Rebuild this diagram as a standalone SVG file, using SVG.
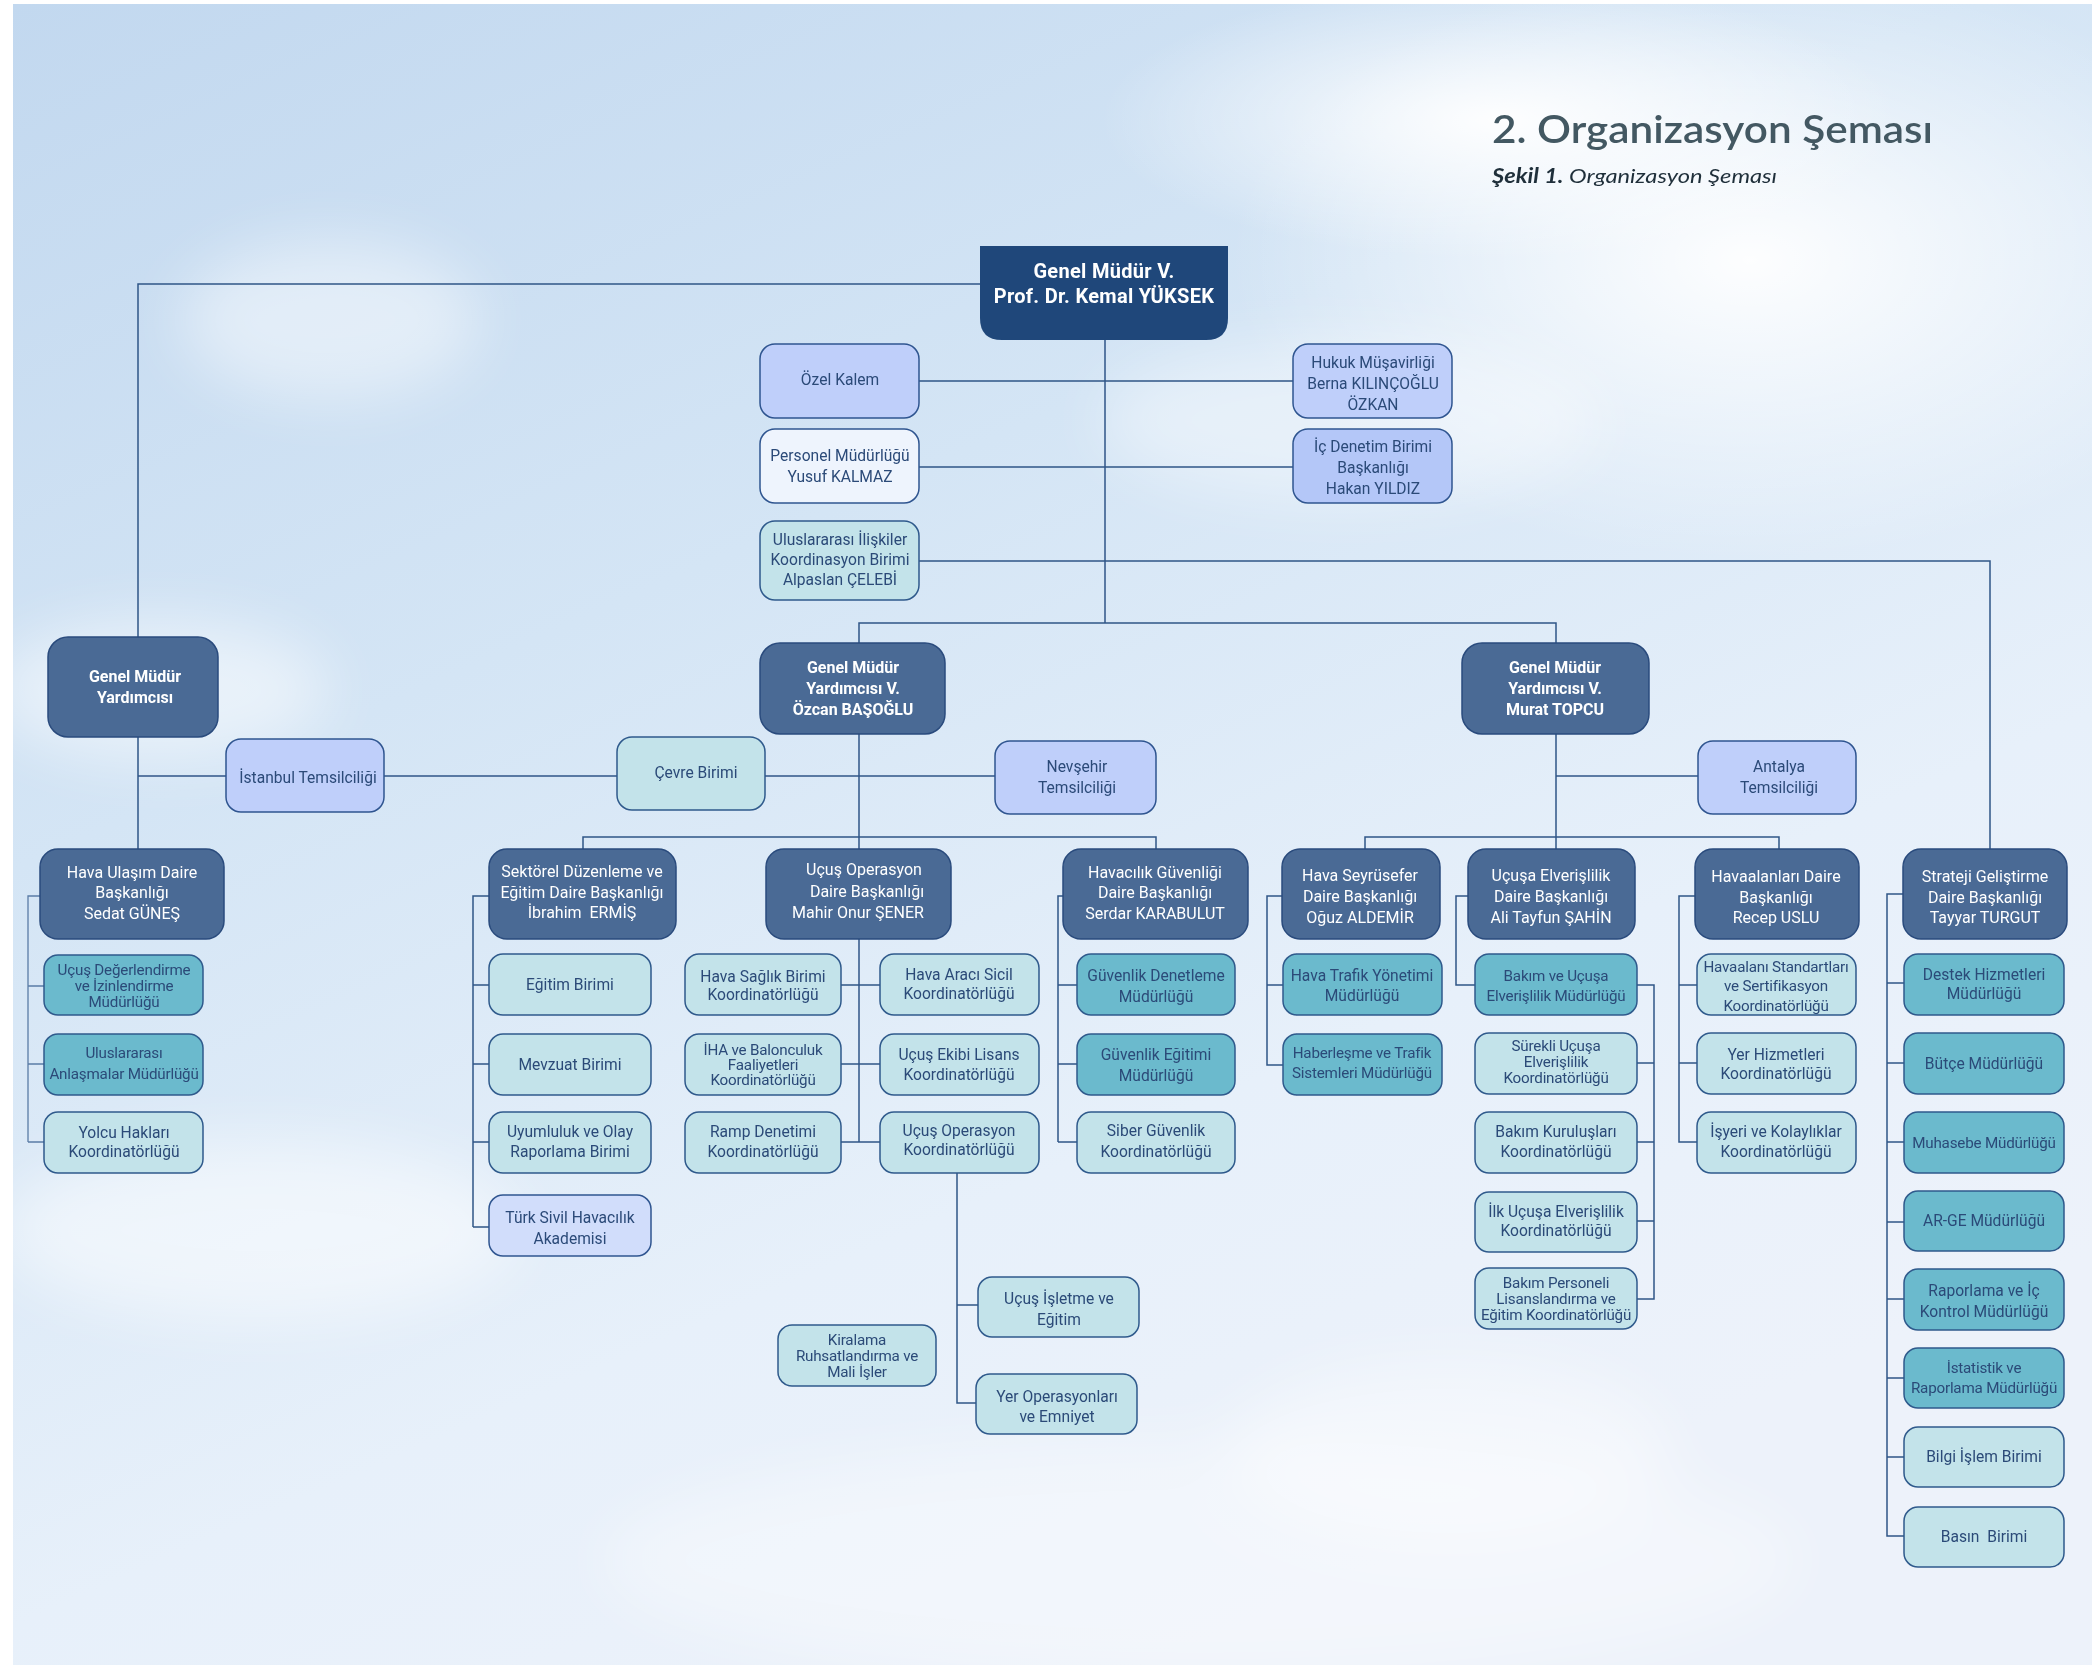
<svg xmlns="http://www.w3.org/2000/svg" width="2098" height="1665" viewBox="0 0 2098 1665">
<defs>
<linearGradient id="sky" x1="0" y1="0" x2="0.55" y2="1">
<stop offset="0" stop-color="#c2d8ef"/>
<stop offset="0.4" stop-color="#d4e5f5"/>
<stop offset="0.75" stop-color="#e7f0fa"/>
<stop offset="1" stop-color="#edf2fa"/>
</linearGradient>
<radialGradient id="glow" cx="0.5" cy="0.5" r="0.5">
<stop offset="0" stop-color="#ffffff" stop-opacity="0.95"/>
<stop offset="1" stop-color="#ffffff" stop-opacity="0"/>
</radialGradient>
<filter id="blur" x="-50%" y="-50%" width="200%" height="200%"><feGaussianBlur stdDeviation="30"/></filter>
<style>
.c{fill:none;stroke:#2f5587;stroke-width:1.5}
.c2{fill:none;stroke:#5a7ca6;stroke-width:1.3}
rect{stroke-width:1.5}
.dk{fill:#4a6a95;stroke:#2a4b7d}
.lv{fill:#bfcffa;stroke:#2f5590}
.lv2{fill:#b4c7f8;stroke:#2f5590}
.lv3{fill:#d1ddfb;stroke:#2f5590}
.wh{fill:#eef4fd;stroke:#2f5590}
.lt{fill:#c3e3ea;stroke:#2f5a8c}
.md{fill:#6bbacd;stroke:#2f5a8c}
text{font-family:Roboto,'Liberation Sans',sans-serif;text-anchor:middle}
.t{font-size:15.6px;fill:#2b4a78}
.ts{font-size:15.2px;fill:#2b4a78;letter-spacing:-0.2px}
.tw{font-size:16px;fill:#ffffff}
.tb{font-size:16px;fill:#ffffff;font-weight:bold}
.title{font-family:Lato,'Open Sans',sans-serif;text-anchor:start;font-size:38px;fill:#435862;font-weight:600}
.sub{font-family:Lato,'Open Sans',sans-serif;text-anchor:start;font-size:20px;fill:#1f2f3a;font-style:italic}
</style>
</defs>
<rect x="0" y="0" width="2098" height="1665" fill="#ffffff"/>
<g id="background">
<rect x="13" y="4" width="2079" height="1661" fill="url(#sky)"/>
<ellipse cx="1750" cy="260" rx="520" ry="300" fill="url(#glow)"/>
<ellipse cx="1500" cy="120" rx="400" ry="140" fill="url(#glow)"/>
<g filter="url(#blur)" fill="#ffffff">
<ellipse cx="330" cy="320" rx="150" ry="80" opacity="0.45"/>
<ellipse cx="160" cy="690" rx="170" ry="70" opacity="0.5"/>
<ellipse cx="260" cy="1230" rx="260" ry="90" opacity="0.5"/>
<ellipse cx="1200" cy="1560" rx="600" ry="120" opacity="0.35"/>
<ellipse cx="1350" cy="420" rx="250" ry="80" opacity="0.4"/>
<ellipse cx="1450" cy="1450" rx="220" ry="90" opacity="0.4"/>
</g>
</g>
<g id="title">
<text class="title" x="1492" y="143" textLength="441" lengthAdjust="spacingAndGlyphs">2. Organizasyon Şeması</text>
<text class="sub" x="1492" y="183" textLength="285" lengthAdjust="spacingAndGlyphs"><tspan font-weight="bold">Şekil 1.</tspan> Organizasyon Şeması</text>
</g>
<g id="connectors">
<path class="c" d="M980,284 H138 V849"/>
<path class="c" d="M1105,340 V623"/>
<path class="c" d="M919,381 H1293 M919,467 H1293"/>
<path class="c" d="M919,561 H1990 V849"/>
<path class="c" d="M859,643 V623 H1556 V849"/>
<path class="c" d="M138,776 H995"/>
<path class="c" d="M1556,776 H1698"/>
<path class="c" d="M859,734 V1142"/>
<path class="c" d="M583,849 V837 H1156 V849"/>
<path class="c" d="M1365,849 V837 H1779 V849"/>
<path class="c2" d="M40,896 H28 V1142 M28,986 H44 M28,1064 H44 M28,1142 H44"/>
<path class="c" d="M489,896 H473 V1227 M473,985 H489 M473,1064 H489 M473,1142 H489 M473,1227 H489"/>
<path class="c" d="M841,985 H880 M841,1064 H880 M841,1142 H880"/>
<path class="c" d="M957,1173 V1403 H976 M957,1305 H978"/>
<path class="c" d="M1063,896 H1058 V1142 M1058,985 H1077 M1058,1064 H1077 M1058,1142 H1077"/>
<path class="c" d="M1282,896 H1267 V1065 H1283 M1267,985 H1283"/>
<path class="c" d="M1468,896 H1456 V985 H1475"/>
<path class="c" d="M1637,985 H1654 V1299 H1637 M1637,1063 H1654 M1637,1142 H1654 M1637,1221 H1654"/>
<path class="c" d="M1695,896 H1679 V1142 H1697 M1679,985 H1697 M1679,1063 H1697"/>
<path class="c" d="M1903,894 H1887 V1536 H1904 M1887,983 H1904 M1887,1063 H1904 M1887,1142 H1904 M1887,1222 H1904 M1887,1299 H1904 M1887,1378 H1904 M1887,1457 H1904"/>
</g>
<g id="n-genelmudur">
<path d="M980,246 H1228 V318 Q1228,340 1206,340 H1002 Q980,340 980,318 Z" fill="#1f477a"/>
<text class="tb" style="font-size:20px;letter-spacing:0.3px"><tspan x="1104" y="278">Genel Müdür V.</tspan><tspan x="1104" y="303">Prof. Dr. Kemal YÜKSEK</tspan></text>
</g>
<g id="n-ozelkalem"><rect class="lv" x="760" y="344" width="159" height="74" rx="15"/><text class="t" x="840" y="385">Özel Kalem</text></g>
<g id="n-hukuk"><rect class="lv" x="1293" y="344" width="159" height="74" rx="15"/><text class="t"><tspan x="1373" y="368">Hukuk Müşavirliği</tspan><tspan x="1373" y="389">Berna KILINÇOĞLU</tspan><tspan x="1373" y="410">ÖZKAN</tspan></text></g>
<g id="n-personel"><rect class="wh" x="760" y="429" width="159" height="74" rx="15"/><text class="t"><tspan x="840" y="461">Personel Müdürlüğü</tspan><tspan x="840" y="482">Yusuf KALMAZ</tspan></text></g>
<g id="n-icdenetim"><rect class="lv2" x="1293" y="429" width="159" height="74" rx="15"/><text class="t"><tspan x="1373" y="452">İç Denetim Birimi</tspan><tspan x="1373" y="473">Başkanlığı</tspan><tspan x="1373" y="494">Hakan YILDIZ</tspan></text></g>
<g id="n-uluslararasi"><rect class="lt" x="760" y="521" width="159" height="79" rx="15"/><text class="t"><tspan x="840" y="545">Uluslararası İlişkiler</tspan><tspan x="840" y="565">Koordinasyon Birimi</tspan><tspan x="840" y="585">Alpaslan ÇELEBİ</tspan></text></g>
<g id="n-gmy1"><rect class="dk" x="48" y="637" width="170" height="100" rx="20"/><text class="tb"><tspan x="135" y="682">Genel Müdür</tspan><tspan x="135" y="703">Yardımcısı</tspan></text></g>
<g id="n-gmy2"><rect class="dk" x="760" y="643" width="185" height="91" rx="20"/><text class="tb"><tspan x="853" y="673">Genel Müdür</tspan><tspan x="853" y="694">Yardımcısı V.</tspan><tspan x="853" y="715">Özcan BAŞOĞLU</tspan></text></g>
<g id="n-gmy3"><rect class="dk" x="1462" y="643" width="187" height="91" rx="20"/><text class="tb"><tspan x="1555" y="673">Genel Müdür</tspan><tspan x="1555" y="694">Yardımcısı V.</tspan><tspan x="1555" y="715">Murat TOPCU</tspan></text></g>
<g id="n-istanbul"><rect class="lv" x="226" y="739" width="158" height="73" rx="15"/><text class="t" x="308" y="783">İstanbul Temsilciliği</text></g>
<g id="n-cevre"><rect class="lt" x="617" y="737" width="148" height="73" rx="15"/><text class="t" x="696" y="778">Çevre Birimi</text></g>
<g id="n-nevsehir"><rect class="lv" x="995" y="741" width="161" height="73" rx="15"/><text class="t"><tspan x="1077" y="772">Nevşehir</tspan><tspan x="1077" y="793">Temsilciliği</tspan></text></g>
<g id="n-antalya"><rect class="lv" x="1698" y="741" width="158" height="73" rx="15"/><text class="t"><tspan x="1779" y="772">Antalya</tspan><tspan x="1779" y="793">Temsilciliği</tspan></text></g>
<g id="n-havaulasim"><rect class="dk" x="40" y="849" width="184" height="90" rx="18"/><text class="tw"><tspan x="132" y="878">Hava Ulaşım Daire</tspan><tspan x="132" y="898">Başkanlığı</tspan><tspan x="132" y="919">Sedat GÜNEŞ</tspan></text></g>
<g id="n-sektorel"><rect class="dk" x="489" y="849" width="187" height="90" rx="18"/><text class="tw"><tspan x="582" y="877">Sektörel Düzenleme ve</tspan><tspan x="582" y="898">Eğitim Daire Başkanlığı</tspan><tspan x="582" y="918" xml:space="preserve">İbrahim  ERMİŞ</tspan></text></g>
<g id="n-ucusop"><rect class="dk" x="766" y="849" width="185" height="90" rx="18"/><text class="tw"><tspan x="864" y="875">Uçuş Operasyon</tspan><tspan x="867" y="897">Daire Başkanlığı</tspan><tspan x="858" y="918">Mahir Onur ŞENER</tspan></text></g>
<g id="n-havguv"><rect class="dk" x="1063" y="849" width="185" height="90" rx="18"/><text class="tw"><tspan x="1155" y="878">Havacılık Güvenliği</tspan><tspan x="1155" y="898">Daire Başkanlığı</tspan><tspan x="1155" y="919">Serdar KARABULUT</tspan></text></g>
<g id="n-seyrusefer"><rect class="dk" x="1282" y="849" width="158" height="90" rx="18"/><text class="tw"><tspan x="1360" y="881">Hava Seyrüsefer</tspan><tspan x="1360" y="902">Daire Başkanlığı</tspan><tspan x="1360" y="923">Oğuz ALDEMİR</tspan></text></g>
<g id="n-ucusaelv"><rect class="dk" x="1468" y="849" width="167" height="90" rx="18"/><text class="tw"><tspan x="1551" y="881">Uçuşa Elverişlilik</tspan><tspan x="1551" y="902">Daire Başkanlığı</tspan><tspan x="1551" y="923">Ali Tayfun ŞAHİN</tspan></text></g>
<g id="n-havaalan"><rect class="dk" x="1695" y="849" width="164" height="90" rx="18"/><text class="tw"><tspan x="1776" y="882">Havaalanları Daire</tspan><tspan x="1776" y="903">Başkanlığı</tspan><tspan x="1776" y="923">Recep USLU</tspan></text></g>
<g id="n-strateji"><rect class="dk" x="1903" y="849" width="164" height="90" rx="18"/><text class="tw"><tspan x="1985" y="882">Strateji Geliştirme</tspan><tspan x="1985" y="903">Daire Başkanlığı</tspan><tspan x="1985" y="923">Tayyar TURGUT</tspan></text></g>
<g id="n-ucusdeg"><rect class="md" x="44" y="955" width="159" height="60" rx="14"/><text class="ts"><tspan x="124" y="975">Uçuş Değerlendirme</tspan><tspan x="124" y="991">ve İzinlendirme</tspan><tspan x="124" y="1007">Müdürlüğü</tspan></text></g>
<g id="n-uluslarans"><rect class="md" x="44" y="1034" width="159" height="61" rx="14"/><text class="ts"><tspan x="124" y="1058">Uluslararası</tspan><tspan x="124" y="1079">Anlaşmalar Müdürlüğü</tspan></text></g>
<g id="n-yolcu"><rect class="lt" x="44" y="1112" width="159" height="61" rx="14"/><text class="t"><tspan x="124" y="1138">Yolcu Hakları</tspan><tspan x="124" y="1157">Koordinatörlüğü</tspan></text></g>
<g id="n-egitim"><rect class="lt" x="489" y="954" width="162" height="61" rx="14"/><text class="t" x="570" y="990">Eğitim Birimi</text></g>
<g id="n-mevzuat"><rect class="lt" x="489" y="1034" width="162" height="61" rx="14"/><text class="t" x="570" y="1070">Mevzuat Birimi</text></g>
<g id="n-uyumluluk"><rect class="lt" x="489" y="1112" width="162" height="61" rx="14"/><text class="t"><tspan x="570" y="1137">Uyumluluk ve Olay</tspan><tspan x="570" y="1157">Raporlama Birimi</tspan></text></g>
<g id="n-turksivil"><rect class="lv3" x="489" y="1195" width="162" height="61" rx="14"/><text class="t"><tspan x="570" y="1223">Türk Sivil Havacılık</tspan><tspan x="570" y="1244">Akademisi</tspan></text></g>
<g id="n-havasaglik"><rect class="lt" x="685" y="954" width="156" height="61" rx="14"/><text class="t"><tspan x="763" y="982">Hava Sağlık Birimi</tspan><tspan x="763" y="1000">Koordinatörlüğü</tspan></text></g>
<g id="n-havaraci"><rect class="lt" x="880" y="954" width="159" height="61" rx="14"/><text class="t"><tspan x="959" y="980">Hava Aracı Sicil</tspan><tspan x="959" y="999">Koordinatörlüğü</tspan></text></g>
<g id="n-iha"><rect class="lt" x="685" y="1034" width="156" height="61" rx="14"/><text class="ts"><tspan x="763" y="1055">İHA ve Balonculuk</tspan><tspan x="763" y="1070">Faaliyetleri</tspan><tspan x="763" y="1085">Koordinatörlüğü</tspan></text></g>
<g id="n-ucusekibi"><rect class="lt" x="880" y="1034" width="159" height="61" rx="14"/><text class="t"><tspan x="959" y="1060">Uçuş Ekibi Lisans</tspan><tspan x="959" y="1080">Koordinatörlüğü</tspan></text></g>
<g id="n-ramp"><rect class="lt" x="685" y="1112" width="156" height="61" rx="14"/><text class="t"><tspan x="763" y="1137">Ramp Denetimi</tspan><tspan x="763" y="1157">Koordinatörlüğü</tspan></text></g>
<g id="n-ucusopkoord"><rect class="lt" x="880" y="1112" width="159" height="61" rx="14"/><text class="t"><tspan x="959" y="1136">Uçuş Operasyon</tspan><tspan x="959" y="1155">Koordinatörlüğü</tspan></text></g>
<g id="n-ucusisletme"><rect class="lt" x="978" y="1277" width="161" height="60" rx="14"/><text class="t"><tspan x="1059" y="1304">Uçuş İşletme ve</tspan><tspan x="1059" y="1325">Eğitim</tspan></text></g>
<g id="n-yerop"><rect class="lt" x="976" y="1374" width="161" height="60" rx="14"/><text class="t"><tspan x="1057" y="1402">Yer Operasyonları</tspan><tspan x="1057" y="1422">ve Emniyet</tspan></text></g>
<g id="n-kiralama"><rect class="lt" x="778" y="1325" width="158" height="61" rx="14"/><text class="ts"><tspan x="857" y="1345">Kiralama</tspan><tspan x="857" y="1361">Ruhsatlandırma ve</tspan><tspan x="857" y="1377">Mali İşler</tspan></text></g>
<g id="n-guvden"><rect class="md" x="1077" y="954" width="158" height="61" rx="14"/><text class="t"><tspan x="1156" y="981">Güvenlik Denetleme</tspan><tspan x="1156" y="1002">Müdürlüğü</tspan></text></g>
<g id="n-guvegt"><rect class="md" x="1077" y="1034" width="158" height="61" rx="14"/><text class="t"><tspan x="1156" y="1060">Güvenlik Eğitimi</tspan><tspan x="1156" y="1081">Müdürlüğü</tspan></text></g>
<g id="n-siber"><rect class="lt" x="1077" y="1112" width="158" height="61" rx="14"/><text class="t"><tspan x="1156" y="1136">Siber Güvenlik</tspan><tspan x="1156" y="1157">Koordinatörlüğü</tspan></text></g>
<g id="n-havatrafik"><rect class="md" x="1283" y="954" width="159" height="61" rx="14"/><text class="t"><tspan x="1362" y="981">Hava Trafik Yönetimi</tspan><tspan x="1362" y="1001">Müdürlüğü</tspan></text></g>
<g id="n-haberlesme"><rect class="md" x="1283" y="1034" width="159" height="61" rx="14"/><text class="ts"><tspan x="1362" y="1058">Haberleşme ve Trafik</tspan><tspan x="1362" y="1078">Sistemleri Müdürlüğü</tspan></text></g>
<g id="n-bakimucusa"><rect class="md" x="1475" y="954" width="162" height="61" rx="14"/><text class="ts"><tspan x="1556" y="981">Bakım ve Uçuşa</tspan><tspan x="1556" y="1001">Elverişlilik Müdürlüğü</tspan></text></g>
<g id="n-surekli"><rect class="lt" x="1475" y="1033" width="162" height="61" rx="14"/><text class="ts"><tspan x="1556" y="1051">Sürekli Uçuşa</tspan><tspan x="1556" y="1067">Elverişlilik</tspan><tspan x="1556" y="1083">Koordinatörlüğü</tspan></text></g>
<g id="n-bakimkur"><rect class="lt" x="1475" y="1112" width="162" height="61" rx="14"/><text class="t"><tspan x="1556" y="1137">Bakım Kuruluşları</tspan><tspan x="1556" y="1157">Koordinatörlüğü</tspan></text></g>
<g id="n-ilkucusa"><rect class="lt" x="1475" y="1192" width="162" height="60" rx="14"/><text class="t"><tspan x="1556" y="1217">İlk Uçuşa Elverişlilik</tspan><tspan x="1556" y="1236">Koordinatörlüğü</tspan></text></g>
<g id="n-bakimpers"><rect class="lt" x="1475" y="1268" width="162" height="61" rx="14"/><text class="ts"><tspan x="1556" y="1288">Bakım Personeli</tspan><tspan x="1556" y="1304">Lisanslandırma ve</tspan><tspan x="1556" y="1320">Eğitim Koordinatörlüğü</tspan></text></g>
<g id="n-standart"><rect class="lt" x="1697" y="954" width="159" height="61" rx="14"/><text class="ts"><tspan x="1776" y="972">Havaalanı Standartları</tspan><tspan x="1776" y="991">ve Sertifikasyon</tspan><tspan x="1776" y="1011">Koordinatörlüğü</tspan></text></g>
<g id="n-yerhiz"><rect class="lt" x="1697" y="1033" width="159" height="61" rx="14"/><text class="t"><tspan x="1776" y="1060">Yer Hizmetleri</tspan><tspan x="1776" y="1079">Koordinatörlüğü</tspan></text></g>
<g id="n-isyeri"><rect class="lt" x="1697" y="1112" width="159" height="61" rx="14"/><text class="t"><tspan x="1776" y="1137">İşyeri ve Kolaylıklar</tspan><tspan x="1776" y="1157">Koordinatörlüğü</tspan></text></g>
<g id="n-destek"><rect class="md" x="1904" y="954" width="160" height="61" rx="14"/><text class="t"><tspan x="1984" y="980">Destek Hizmetleri</tspan><tspan x="1984" y="999">Müdürlüğü</tspan></text></g>
<g id="n-butce"><rect class="md" x="1904" y="1033" width="160" height="61" rx="14"/><text class="t" x="1984" y="1069">Bütçe Müdürlüğü</text></g>
<g id="n-muhasebe"><rect class="md" x="1904" y="1112" width="160" height="61" rx="14"/><text class="ts" x="1984" y="1148">Muhasebe Müdürlüğü</text></g>
<g id="n-arge"><rect class="md" x="1904" y="1191" width="160" height="60" rx="14"/><text class="t" x="1984" y="1226">AR-GE Müdürlüğü</text></g>
<g id="n-raporlama"><rect class="md" x="1904" y="1269" width="160" height="61" rx="14"/><text class="t"><tspan x="1984" y="1296">Raporlama ve İç</tspan><tspan x="1984" y="1317">Kontrol Müdürlüğü</tspan></text></g>
<g id="n-istatistik"><rect class="md" x="1904" y="1348" width="160" height="60" rx="14"/><text class="ts"><tspan x="1984" y="1373">İstatistik ve</tspan><tspan x="1984" y="1393">Raporlama Müdürlüğü</tspan></text></g>
<g id="n-bilgi"><rect class="lt" x="1904" y="1427" width="160" height="60" rx="14"/><text class="t" x="1984" y="1462">Bilgi İşlem Birimi</text></g>
<g id="n-basin"><rect class="lt" x="1904" y="1507" width="160" height="60" rx="14"/><text class="t" x="1984" y="1542" xml:space="preserve">Basın  Birimi</text></g>
</svg>
